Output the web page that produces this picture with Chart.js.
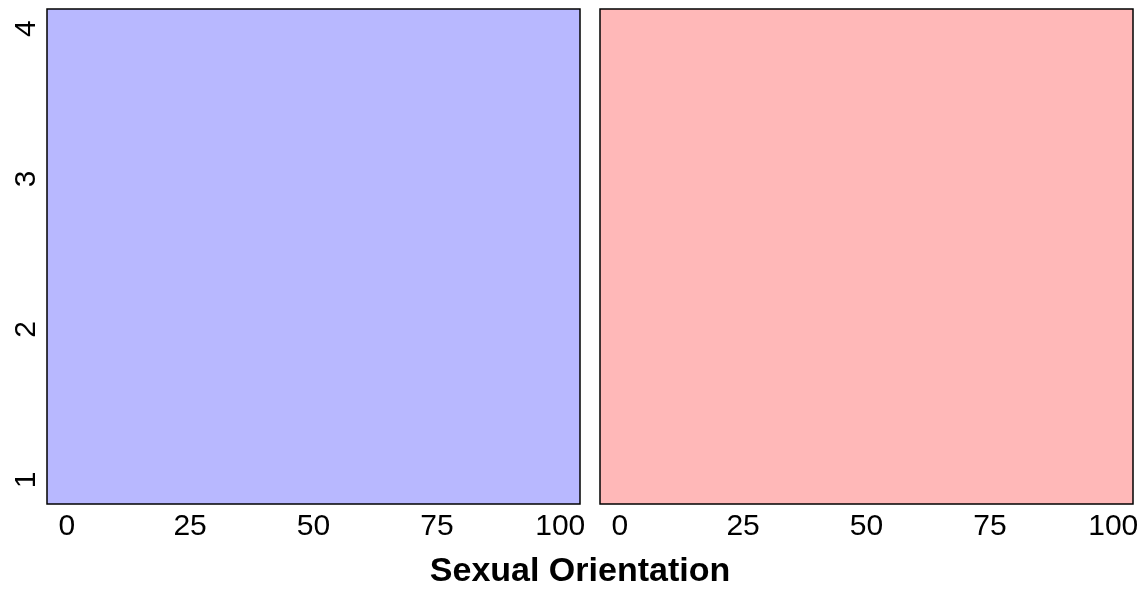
<!DOCTYPE html>
<html>
<head>
<meta charset="utf-8">
<script src="https://cdn.jsdelivr.net/npm/chart.js@4/dist/chart.umd.min.js"></script>
<style>
  html, body { margin: 0; padding: 0; background: #fff; }
  #wrap { position: relative; width: 1147px; height: 591px; overflow: hidden; }
  .pane { position: absolute; top: 0; height: 591px; }
  #left { left: 0; width: 590px; }
  #right { left: 590px; width: 557px; }
  #title {
    position: absolute; left: 280px; width: 600px; top: 552px;
    text-align: center; font: bold 34px "Liberation Sans", Arial, sans-serif;
    line-height: 34px; color: #000;
  }
</style>
</head>
<body>
<div id="wrap">
  <div class="pane" id="left"><canvas id="c1"></canvas></div>
  <div class="pane" id="right"><canvas id="c2"></canvas></div>
  <div id="title">Sexual Orientation</div>
</div>
<script>
// axis ticks and limits
const xTicks = [0, 25, 50, 75, 100]
const yTicks = [1, 2, 3, 4]
const xLimits = [-4, 104]
const yLimits = [0.84, 4.13]

// each panel is one filled region spanning the full range
const panelNames = ['Male', 'Female']
const panelColors = ['#B8B8FF', '#FFB8B8']
const regionX = [-4, 104]
const regionTop = [4.13, 4.13]

const FONT = '"Liberation Sans", Arial, sans-serif'

const boxPlugin = {
  id: 'box',
  afterDraw(chart) {
    const { ctx, chartArea: a } = chart
    ctx.save()
    ctx.strokeStyle = '#000'
    ctx.lineWidth = 1.5
    ctx.strokeRect(a.left, a.top, a.right - a.left, a.bottom - a.top)
    ctx.restore()
  }
}

const noPad = s => {
  s.paddingTop = 0
  s.paddingBottom = 0
  s.paddingLeft = 0
  s.paddingRight = 0
}

function makeChart(el, idx, showY, padding) {
  return new Chart(el, {
    type: 'line',
    data: {
      datasets: [{
        label: panelNames[idx],
        data: regionX.map((x, i) => ({ x, y: regionTop[i] })),
        borderWidth: 0,
        borderColor: 'rgba(0,0,0,0)',
        backgroundColor: panelColors[idx],
        pointRadius: 0,
        fill: 'start'
      }]
    },
    options: {
      responsive: true,
      maintainAspectRatio: false,
      animation: false,
      layout: { padding },
      plugins: { legend: { display: false }, tooltip: { enabled: false } },
      scales: {
        x: {
          type: 'linear',
          min: xLimits[0], max: xLimits[1],
          grid: { display: false, drawTicks: false },
          border: { display: false },
          afterBuildTicks: s => { s.ticks = xTicks.map(v => ({ value: v })) },
          afterFit: s => { s.height = 87; noPad(s) },
          ticks: { color: '#000', padding: 5, maxRotation: 0, font: { size: 30, family: FONT } }
        },
        y: {
          type: 'linear',
          display: showY,
          min: yLimits[0], max: yLimits[1],
          grid: { display: false, drawTicks: false },
          border: { display: false },
          afterBuildTicks: s => { s.ticks = yTicks.map(v => ({ value: v })) },
          afterFit: s => { if (showY) s.width = 45; noPad(s) },
          ticks: { color: '#000', padding: 12, crossAlign: 'center', minRotation: 90, maxRotation: 90, font: { size: 30, family: FONT } }
        }
      }
    },
    plugins: [boxPlugin]
  })
}

makeChart(document.getElementById('c1'), 0, true, { top: 9, right: 10, left: 2, bottom: 0 })
makeChart(document.getElementById('c2'), 1, false, { top: 9, right: 14, left: 10, bottom: 0 })
</script>
</body>
</html>
